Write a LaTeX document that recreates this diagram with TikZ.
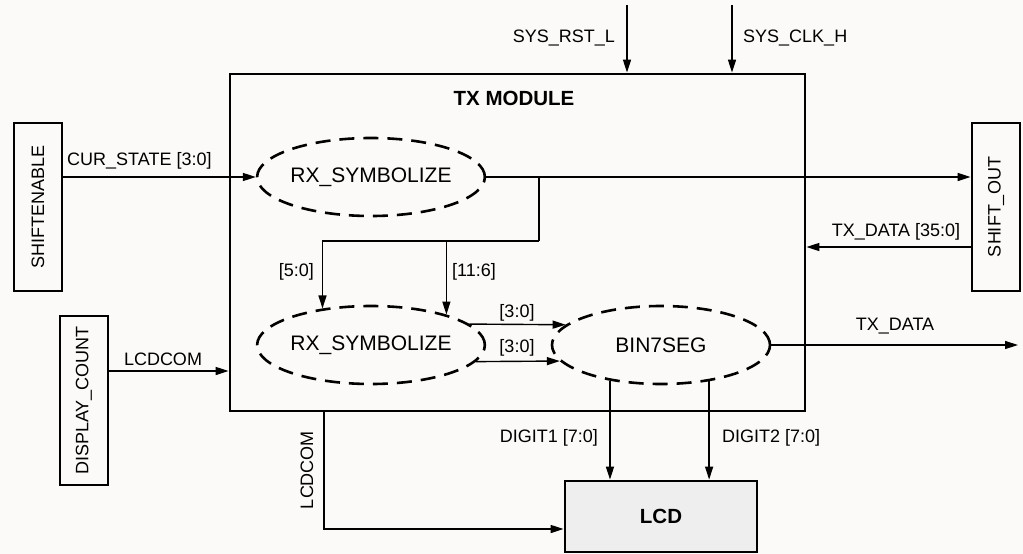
\documentclass[tikz,border=0pt]{standalone}
\usepackage{fontspec}
\setmainfont{Liberation Sans}
\usetikzlibrary{arrows.meta,shapes.geometric,calc}
\definecolor{bgc}{RGB}{251,250,248}
\definecolor{lcdfill}{RGB}{238,238,238}
\begin{document}
\begin{tikzpicture}[x=1pt,y=-1pt,
  blk/.style={draw, line width=2.8pt, inner sep=0pt},
  proc/.style={ellipse, draw, line width=2.6pt, dash pattern=on 15pt off 9pt,
    minimum width=218pt, minimum height=78pt, inner sep=0pt,
    font=\fontsize{21}{25}\selectfont},
  conn/.style={line width=1.4pt},
  arr/.style={conn, -{Triangle[length=13pt,width=8pt]}},
  lbl/.style={font=\fontsize{18}{22}\selectfont, inner sep=0pt},
  bold/.style={font=\bfseries\fontsize{20.5}{24}\selectfont, inner sep=0pt},
]
\fill[bgc] (0,0) rectangle (1023,554);
\useasboundingbox (0,0) rectangle (1023,554);

% blocks
\node[blk, minimum width=575pt, minimum height=337pt] (tx) at (517.5,242.5) {};
\node[bold] (txt) at (514,98) {TX MODULE};
\node[blk, lbl, minimum width=48pt, minimum height=168pt] (se) at (38,207) {\rotatebox{90}{SHIFTENABLE}};
\node[blk, lbl, minimum width=48pt, minimum height=168pt] (so) at (996,207) {\rotatebox{90}{SHIFT\_OUT}};
\node[blk, lbl, minimum width=48pt, minimum height=169pt] (dc) at (84,400.5) {\rotatebox{90}{DISPLAY\_COUNT}};
\node[blk, bold, fill=lcdfill, minimum width=192pt, minimum height=71pt] (lcd) at (661,516.5) {LCD};

% processes
\node[proc] (e1) at (371,177) {RX\_SYMBOLIZE};
\node[proc] (e2) at (371,345) {RX\_SYMBOLIZE};
\node[proc] (e3) at (661,345) {BIN7SEG};

% top inputs
\coordinate (rst) at (627,5);
\coordinate (clk) at (732,5);
\draw[arr] (rst) -- (rst |- tx.north);
\draw[arr] (clk) -- (clk |- tx.north);
\node[lbl, anchor=east] (lrst) at (615,38) {SYS\_RST\_L};
\node[lbl, anchor=west] (lclk) at (743,38) {SYS\_CLK\_H};

% CUR_STATE
\draw[arr] (se.east |- e1.west) -- (e1.west);
\node[lbl, anchor=west] (lcur) at (67,161) {CUR\_STATE [3:0]};

% e1 to SHIFT_OUT and split
\draw[arr] (e1.east) -- (e1.east -| so.west);
\coordinate (sp) at (539,177);
\coordinate (jn) at (539,241);
\draw[conn] (sp) -- (jn);
\draw[arr] (jn) -| (e2.143);
\draw[arr] (e2.22 |- jn) -- (e2.22);
\node[lbl, anchor=east] (l50) at (314,272) {[5:0]};
\node[lbl, anchor=west] (l116) at (452,272) {[11:6]};

% TX_DATA [35:0]
\draw[arr] ([yshift=-40pt]so.west) -- ([yshift=-40pt]so.west -| tx.east);
\node[lbl] (ltd) at (896,232) {TX\_DATA [35:0]};

% e2 to e3
\draw[arr] (e2.12) -- (e3.168);
\draw[arr] (e2.-9) -- (e3.-171);
\node[lbl] (l30a) at (517,313) {[3:0]};
\node[lbl] (l30b) at (517,348) {[3:0]};

% TX_DATA out
\coordinate (txo) at (1018,345);
\draw[arr] (e3.east) -- (txo);
\node[lbl] (ltxo) at (895,326) {TX\_DATA};

% DIGITs
\draw[arr] (e3.215) -- (e3.215 |- lcd.north);
\draw[arr] (e3.-37) -- (e3.-37 |- lcd.north);
\node[lbl, anchor=east] (ld1) at (598,438) {DIGIT1 [7:0]};
\node[lbl, anchor=west] (ld2) at (722,438) {DIGIT2 [7:0]};

% LCDCOM in
\draw[arr] ([yshift=29.5pt]dc.east) -- ([yshift=29.5pt]dc.east -| tx.west);
\node[lbl] (llc1) at (163,359) {LCDCOM};

% LCDCOM to LCD
\coordinate (lcx) at (324,529);
\draw[arr] (lcx |- tx.south) -- (lcx) -- (lcx -| lcd.west);
\node[lbl, rotate=90] (llc2) at (307,470) {LCDCOM};
\end{tikzpicture}
\end{document}
